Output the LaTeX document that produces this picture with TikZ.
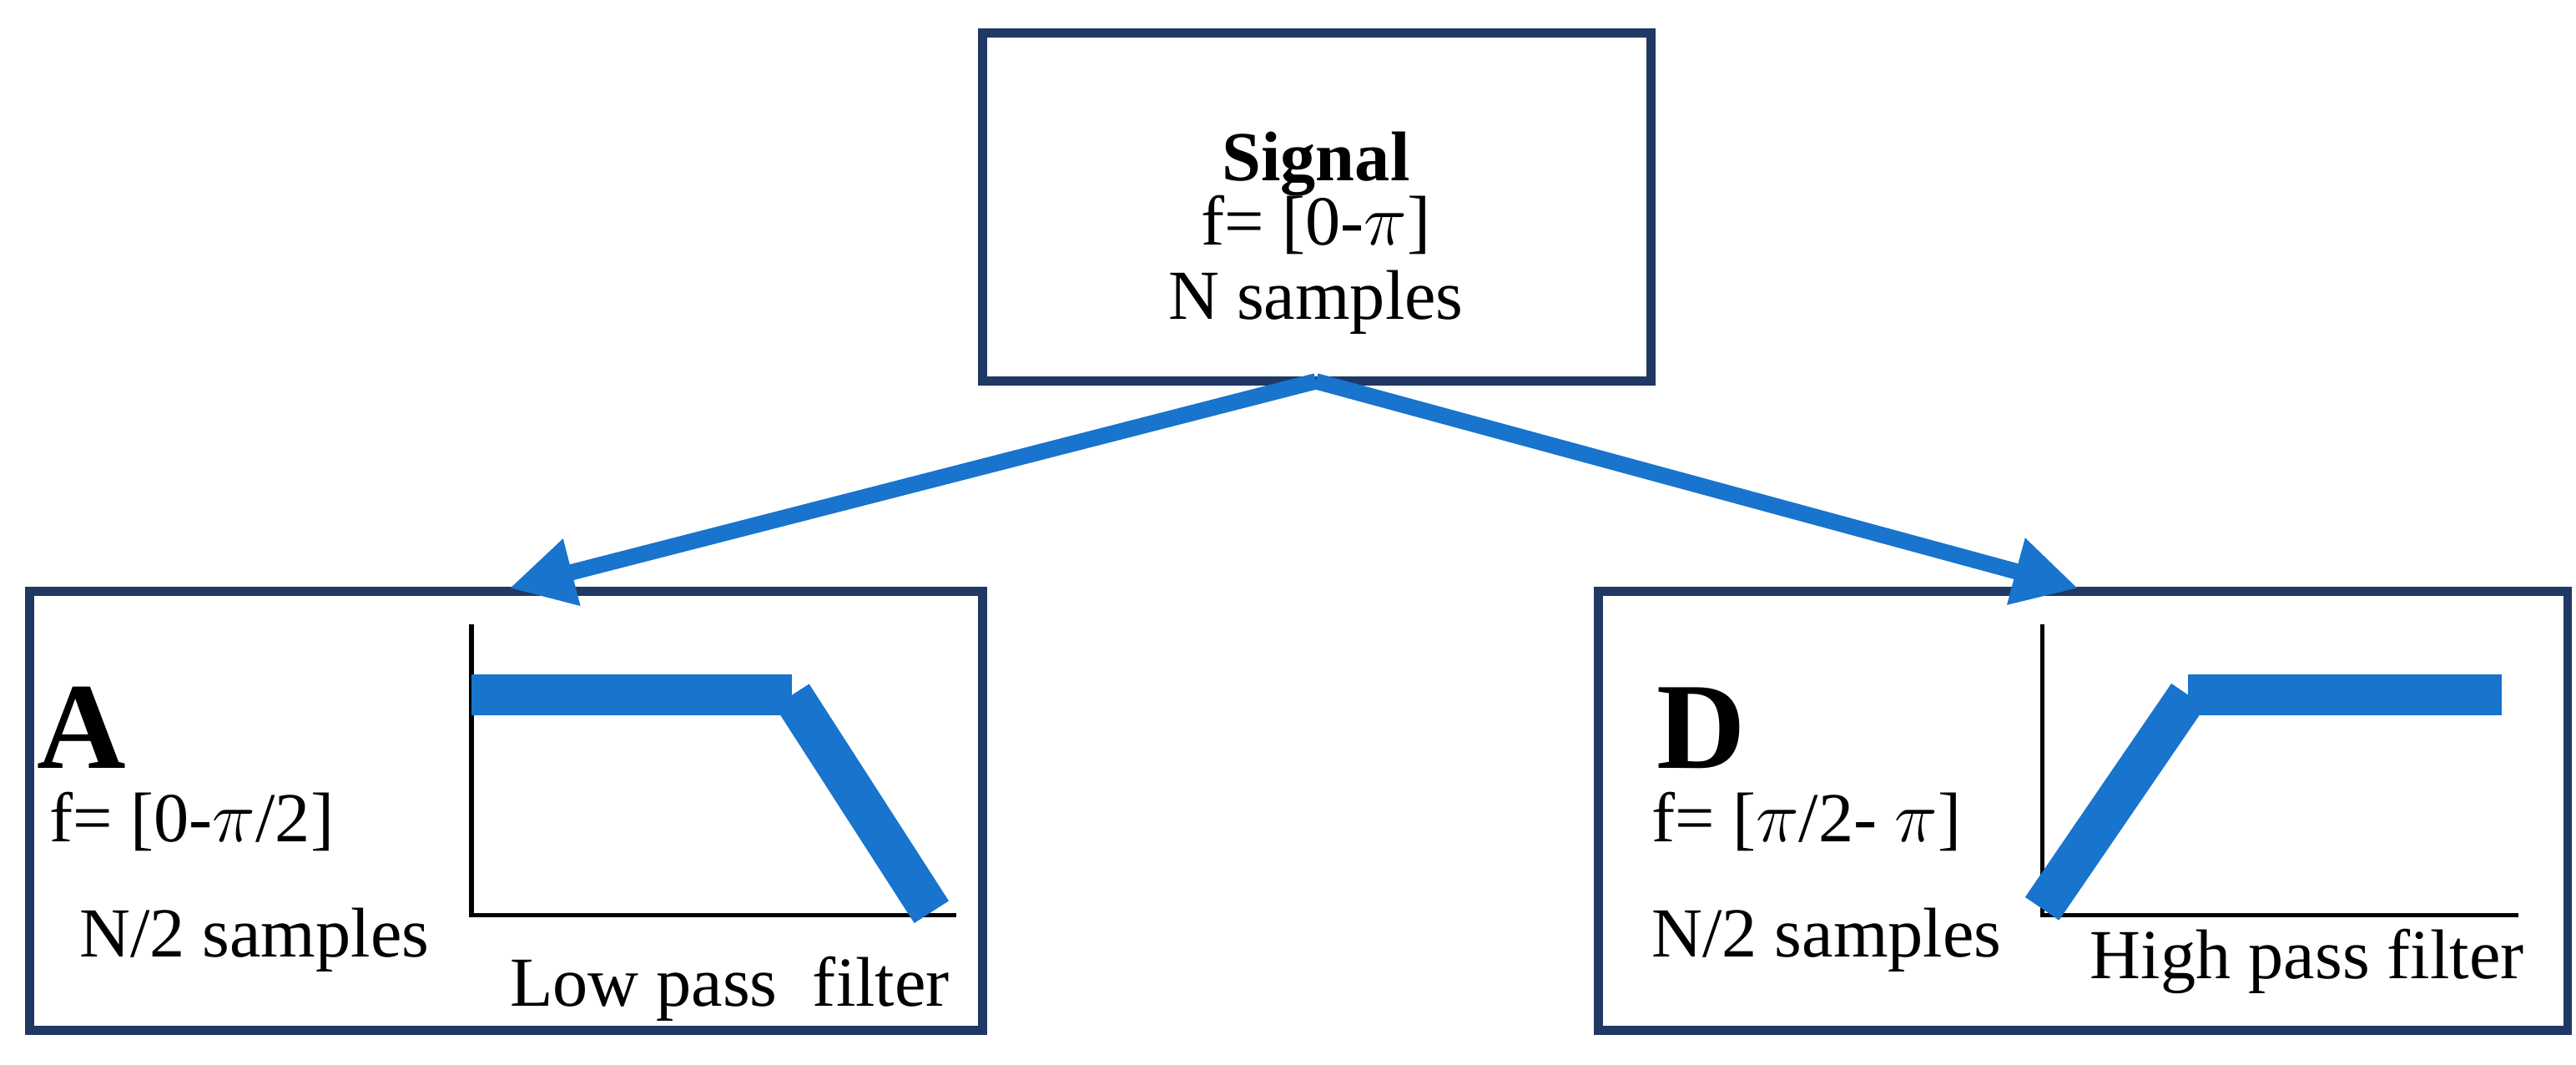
\documentclass[tikz,border=0pt]{standalone}
\usepackage{fontspec}
\setmainfont{Liberation Serif}
\usetikzlibrary{arrows.meta}
\begin{document}
\begin{tikzpicture}[x=0.0197cm,y=-0.0197cm,
  box/.style={draw=navy,line width=3pt},
  conn/.style={draw=arblue,line width=5.5pt,-{Triangle[length=22pt,width=22pt]}},
  resp/.style={draw=arblue,line width=14pt},
  ax/.style={draw=black,line width=1.5pt},
  txt/.style={font=\fontsize{24}{30}\selectfont,inner sep=0pt},
  big/.style={font=\fontsize{42}{48}\selectfont\bfseries,anchor=west,inner sep=0}]
\definecolor{navy}{HTML}{1F3864}
\definecolor{arblue}{HTML}{1874CD}
\useasboundingbox (0,0) rectangle (1568,648);
\draw[box] (598,20) rectangle (1005,232);
\coordinate (ts) at (801,232);
\node[txt] (sig) at (801,100) {\textbf{Signal}};
\node[txt] (sf) at (801,137) {f= [0-$\pi$]};
\node[txt] (sn) at (801,184) {N samples};
\draw[box] (18,360) rectangle (598,627);
\draw[box] (973,360) rectangle (1563,627);
\coordinate (lt) at (310,358);
\coordinate (rt) at (1265,358);
\draw[conn] (ts) -- (lt);
\draw[conn] (ts) -- (rt);
% left
\node[big] (A) at (22,443) {A};
\node[txt,anchor=west] (fa) at (30,500) {f= [0-$\pi$/2]};
\node[txt,anchor=west] (na) at (48,572) {N/2 samples};
\node[txt,anchor=west] (lp) at (310,602) {Low pass~~filter};
\coordinate (la0) at (287,380); \coordinate (la1) at (287,557); \coordinate (la2) at (582,557);
\draw[ax] (la0) -- (la1) -- (la2);
\coordinate (l1) at (287,423); \coordinate (l2) at (482,423); \coordinate (l3) at (567,555);
\draw[resp] (l1) -- (l2);
\draw[resp] (l2) -- (l3);
% right
\node[big] (D) at (1008,443) {D};
\node[txt,anchor=west] (fd) at (1005,500) {f= [$\pi$/2- $\pi$]};
\node[txt,anchor=west] (nd) at (1005,572) {N/2 samples};
\node[txt,anchor=west] (hp) at (1272,585) {High pass filter};
\coordinate (ra0) at (1243,380); \coordinate (ra1) at (1243,557); \coordinate (ra2) at (1533,557);
\draw[ax] (ra0) -- (ra1) -- (ra2);
\coordinate (r1) at (1243,553); \coordinate (r2) at (1332,423); \coordinate (r3) at (1523,423);
\draw[resp] (r1) -- (r2);
\draw[resp] (r2) -- (r3);
\end{tikzpicture}
\end{document}
